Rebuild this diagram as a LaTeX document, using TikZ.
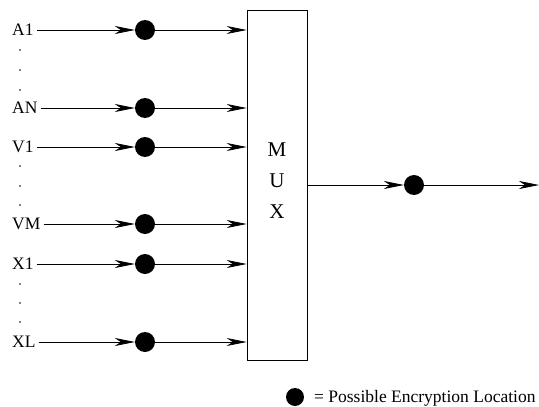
\documentclass[tikz,border=0pt]{standalone}
\usepackage{fontspec}
\setmainfont{Liberation Serif}
\usetikzlibrary{arrows.meta}
\begin{document}
\begin{tikzpicture}[x=1pt,y=-1pt,
  lbl/.style={inner sep=0pt,anchor=west,font=\fontsize{17.5}{17.5}\selectfont},
  enc/.style={circle,fill=black,minimum size=20pt,inner sep=0pt},
  dotm/.style={circle,fill=black,minimum size=1.8pt,inner sep=0pt},
  arr/.style={-{Stealth[length=20pt,width=8pt,inset=6pt]},line width=0.7pt},
  mxl/.style={font=\fontsize{21}{21}\selectfont}]
\useasboundingbox (0,0) rectangle (539,407);
% MUX box
\node[draw,line width=0.7pt,minimum width=60pt,minimum height=350pt,inner sep=0pt] (mux) at (277,185) {};
\node[mxl] (mm) at (277,150) {M};
\node[mxl] (mu) at (277,181) {U};
\node[mxl] (mx) at (277,212) {X};
% inputs
\foreach \name/\txt/\y in {a1/A1/30, an/AN/108, v1/V1/147, vm/VM/224, x1/X1/264, xl/XL/342}{
  \node[lbl] (l\name) at (12,\y) {\txt};
  \node[enc] (c\name) at (145,\y) {};
  \draw[arr] (l\name.east) ++(3,0) coordinate (s\name) -- (c\name.west);
  \draw[arr] (c\name.east) -- (c\name -| mux.west);
}
% vertical dots
\foreach \i/\y in {1/50,2/70,3/90,4/166,5/186,6/205,7/284,8/303,9/322}{
  \node[dotm] (d\i) at (20,\y) {};
}
% output
\node[enc] (co) at (414,185) {};
\coordinate (out) at (539,185);
\draw[arr] (mux.east |- co) -- (co.west);
\draw[arr] (co.east) -- (out);
% legend
\node[enc,minimum size=18pt] (leg) at (295,397) {};
\node[lbl,anchor=base west] (legt) at (314,402) {= Possible Encryption Location};
\end{tikzpicture}
\end{document}
